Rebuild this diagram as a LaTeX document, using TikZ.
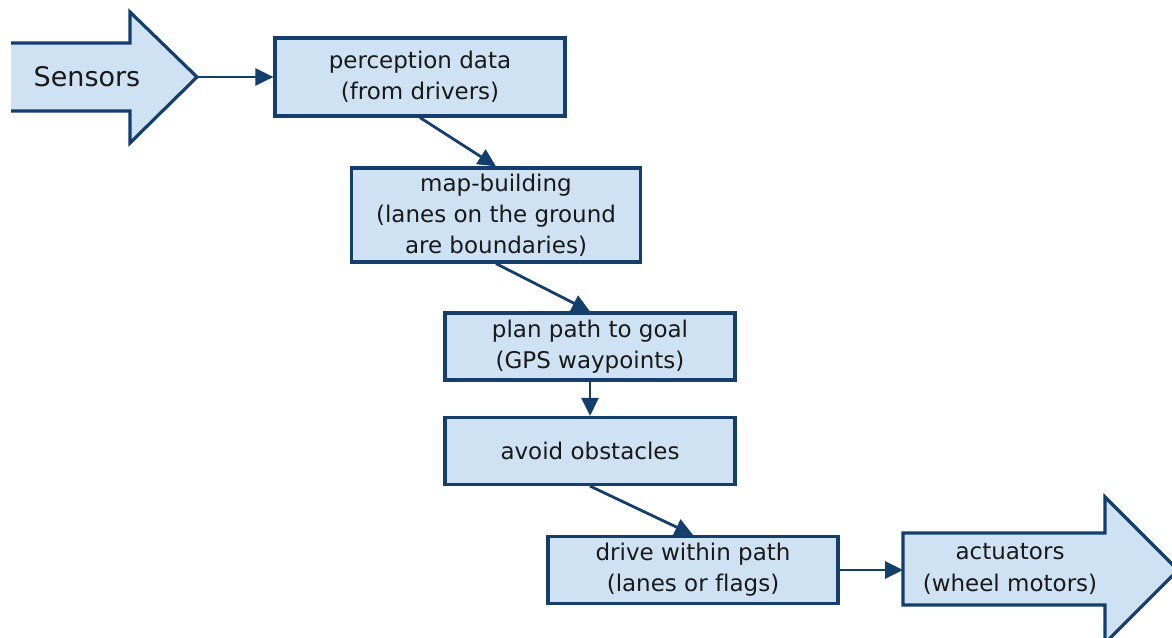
\documentclass[tikz,border=0pt]{standalone}
\usepackage{fontspec}
\setmainfont{DejaVu Sans}[Ligatures=NoCommon]
\usetikzlibrary{arrows.meta}
\definecolor{boxfill}{RGB}{207,226,243}
\definecolor{boxline}{RGB}{20,62,108}
\definecolor{txt}{RGB}{25,25,25}
\tikzset{
  stepbox/.style={draw=boxline, fill=boxfill, line width=3.2pt, minimum width=290pt,
    align=center, text=txt, inner sep=0pt, font=\fontsize{23}{31}\selectfont},
  conn/.style={draw=boxline, line width=2.8pt, -{Triangle[length=18pt,width=17pt]}},
  bigarrow/.style={fill=boxfill},
  bigline/.style={draw=boxline, line width=3.2pt, line join=miter},
}
\begin{document}
\begin{tikzpicture}[x=1pt,y=-1pt]
\useasboundingbox (0,0) rectangle (1172,637);
\clip (0,0) rectangle (1172,637);
% Sensors block arrow
\fill[bigarrow] (11,43) -- (130,43) -- (130,12) -- (197,77) -- (130,143) -- (130,111) -- (11,111) -- cycle;
\draw[bigline] (11,43) -- (130,43) -- (130,12) -- (197,77) -- (130,143) -- (130,111) -- (11,111);
\coordinate (stip) at (197,77);
\node[text=txt, font=\fontsize{27}{32}\selectfont] (sensors) at (87,77) {Sensors};
% actuators block arrow
\fill[bigarrow] (903,533) -- (1105,533) -- (1105,497) -- (1178,570) -- (1105,643) -- (1105,605) -- (903,605) -- cycle;
\draw[bigline] (903,533) -- (1105,533) -- (1105,497) -- (1178,570) -- (1105,643) -- (1105,605) -- (903,605) -- cycle;
\coordinate (atail) at (903,570);
\node[text=txt, align=center, font=\fontsize{23}{32}\selectfont] (act) at (1010,569) {actuators\\(wheel motors)};
% boxes
\node[stepbox, minimum height=78pt] (perc) at (420,77) {perception data\\(from drivers)};
\node[stepbox, minimum width=289pt, minimum height=94pt] (map) at (496,215) {map-building\\(lanes on the ground\\are boundaries)};
\node[stepbox, minimum height=67pt] (plan) at (590,346.5) {plan path to goal\\(GPS waypoints)};
\node[stepbox, minimum height=67pt] (avoid) at (590,451) {avoid obstacles};
\node[stepbox, minimum height=67pt] (drive) at (693,570) {drive within path\\(lanes or flags)};
% connectors
\draw[conn] (stip) -- (perc.west);
\draw[conn] (perc.south) -- (map.north);
\draw[conn] (map.south) -- (plan.north);
\draw[conn] (plan.south) -- (avoid.north);
\draw[conn] (avoid.south) -- (drive.north);
\draw[conn] (drive.east) -- (atail);
\end{tikzpicture}
\end{document}
